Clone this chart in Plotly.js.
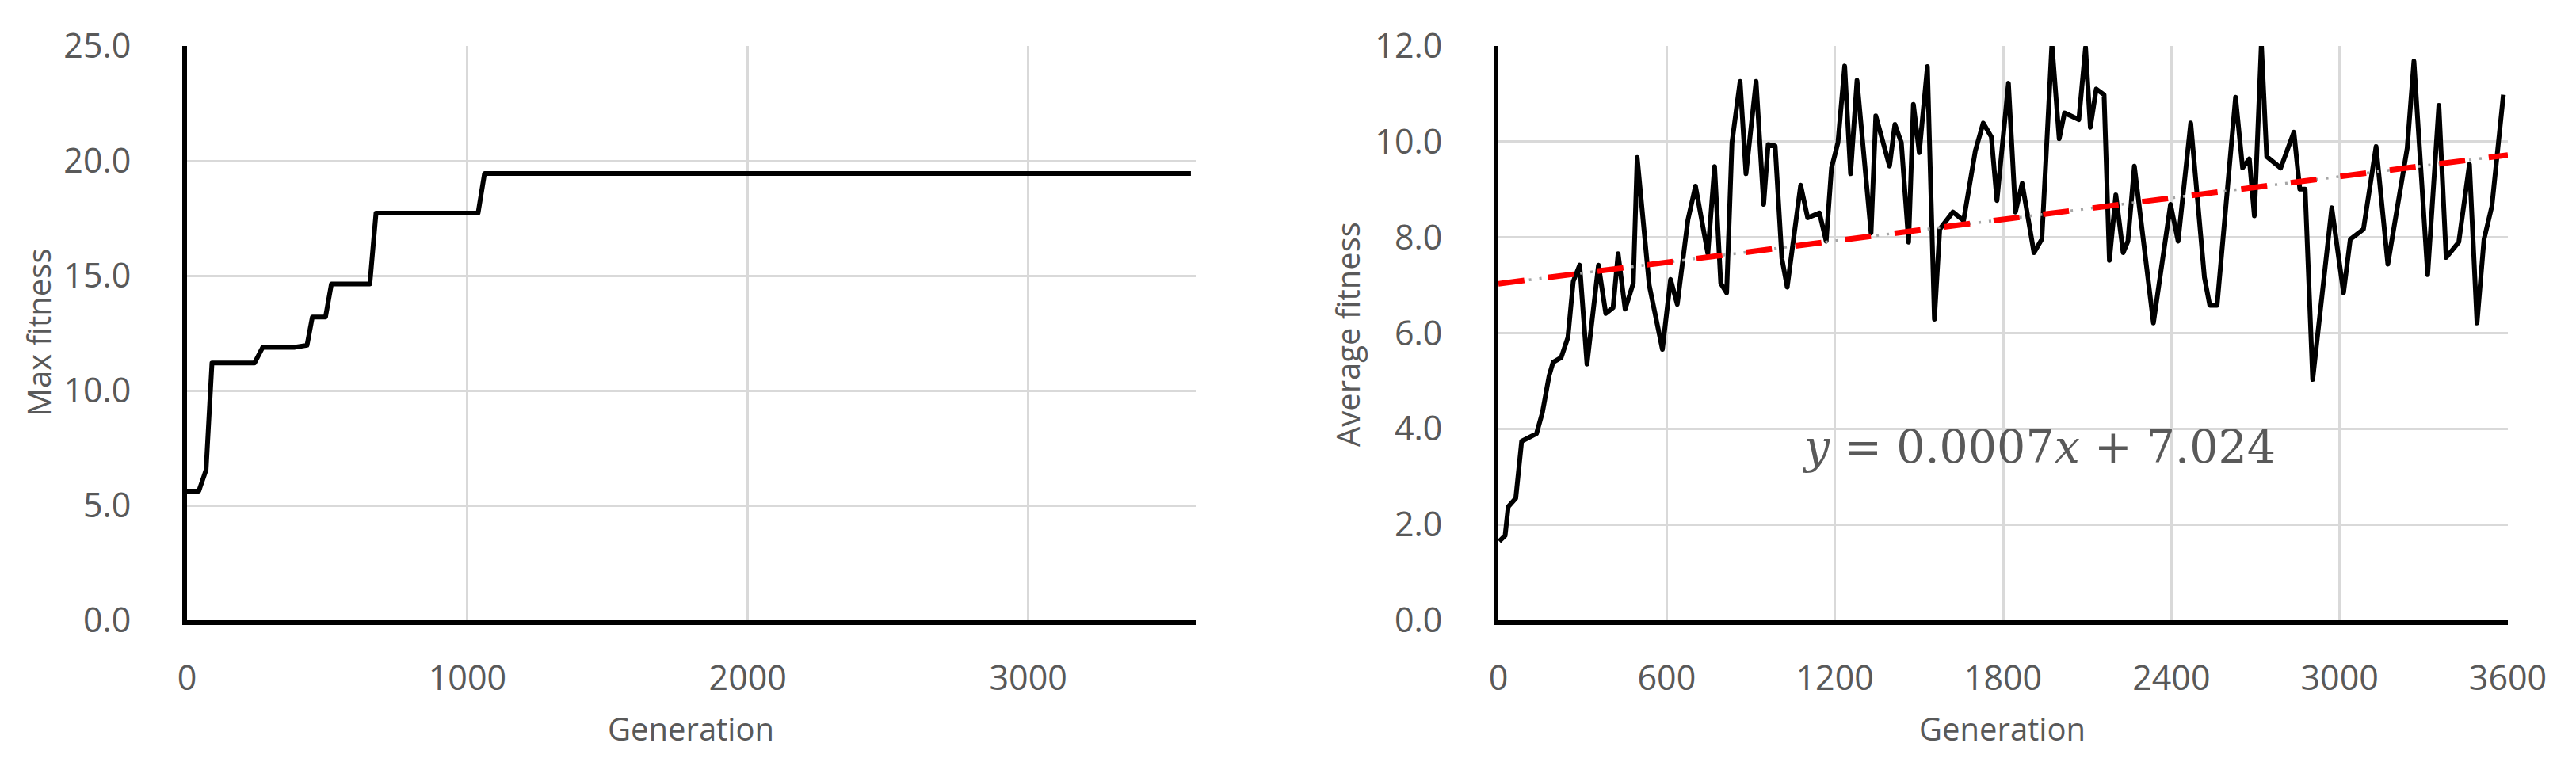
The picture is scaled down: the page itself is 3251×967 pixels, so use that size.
<!DOCTYPE html>
<html>
<head>
<meta charset="utf-8">
<script src="https://cdn.plot.ly/plotly-3.0.1.min.js"></script>
<style>
  html, body { margin: 0; padding: 0; background: #fff; }
  #chart { width: 3251px; height: 967px; }
  .js-line { stroke-linejoin: round; }
</style>
</head>
<body>
<div id="chart"></div>
<script>
// left panel: best fitness per generation (step-like curve)
const maxGen = [0, 42, 68, 89, 241, 270, 382, 428, 447, 494, 515, 652, 674, 1038, 1061, 3580];
const maxFit = [5.62, 5.62, 6.54, 11.2, 11.2, 11.88, 11.88, 11.97, 13.2, 13.2, 14.64, 14.64, 17.72, 17.72, 19.45, 19.45];

// right panel: average fitness per generation
const avgGen = [3, 24, 35, 62, 83, 136, 157, 181, 195, 224, 248, 267, 290, 316, 357, 383, 409, 427, 452, 481,
  495, 538, 585, 614, 638, 676, 703, 747, 771, 793, 814, 833, 862, 883, 919, 946, 962, 987, 1011, 1030,
  1078, 1103, 1145, 1169, 1188, 1211, 1235, 1256, 1279, 1329, 1346, 1395, 1414, 1437, 1463, 1480, 1501, 1530, 1555, 1574,
  1621, 1659, 1701, 1729, 1758, 1778, 1819, 1844, 1868, 1910, 1938, 1974, 2000, 2019, 2070, 2094, 2111, 2132, 2160, 2179,
  2202, 2228, 2245, 2268, 2336, 2397, 2424, 2469, 2518, 2537, 2563, 2629, 2654, 2678, 2696, 2721, 2740, 2790, 2837, 2858,
  2877, 2904, 2972, 3014, 3038, 3085, 3130, 3172, 3241, 3265, 3314, 3354, 3380, 3425, 3463, 3490, 3515, 3543, 3584];
const avgFit = [1.65, 1.77, 2.37, 2.55, 3.74, 3.90, 4.34, 5.11, 5.39, 5.49, 5.91, 7.08, 7.42, 5.35, 7.42, 6.41, 6.53, 7.66, 6.50, 7.04,
  9.67, 7.00, 5.66, 7.12, 6.60, 8.37, 9.07, 7.66, 9.48, 7.04, 6.84, 9.98, 11.26, 9.33, 11.26, 8.69, 9.94, 9.91, 7.56, 6.96,
  9.09, 8.41, 8.51, 7.92, 9.45, 9.98, 11.58, 9.33, 11.28, 8.09, 10.54, 9.49, 10.36, 9.98, 7.90, 10.78, 9.77, 11.57, 6.29, 8.17,
  8.53, 8.35, 9.81, 10.39, 10.10, 8.77, 11.22, 8.53, 9.13, 7.68, 7.96, 12.05, 10.06, 10.60, 10.46, 11.97, 10.30, 11.10, 10.98, 7.52,
  8.89, 7.68, 7.92, 9.49, 6.21, 8.69, 7.92, 10.39, 7.16, 6.58, 6.58, 10.93, 9.45, 9.64, 8.45, 12.05, 9.69, 9.45, 10.2, 9.01,
  9.01, 5.03, 8.62, 6.84, 7.96, 8.17, 9.90, 7.44, 9.86, 11.68, 7.22, 10.76, 7.58, 7.90, 9.53, 6.21, 7.96, 8.65, 10.98];

// linear trendline end points as drawn
const trendGen = [0, 3600];
const trendFit = [7.03, 9.72];
const trendLabel = '<i>y</i> = 0.0007<i>x</i> + 7.024';

const W = 3251, H = 967;
const grey = '#595959';
const gridColor = '#d9d9d9';
const tickFont = { family: 'Open Sans', size: 43, color: grey };
const titleFont = { family: 'Open Sans', size: 40, color: grey };

// pixel helpers for paper coordinates
const px = v => v / W;
const py = v => 1 - v / H;

function xAxis(domain, dtick, anchor) {
  return {
    domain: domain, range: [0, 3600], tick0: 0, dtick: dtick, anchor: anchor,
    showgrid: true, gridcolor: gridColor, gridwidth: 3, zeroline: false,
    showline: true, linecolor: '#000', linewidth: 6,
    ticks: '', ticklabelstandoff: 30, tickfont: tickFont, fixedrange: true
  };
}

function yAxis(range, dtick, anchor) {
  return {
    domain: [1 - 783 / H, 1 - 58 / H], range: range, tick0: 0, dtick: dtick, anchor: anchor,
    tickformat: '.1f', showgrid: true, gridcolor: gridColor, gridwidth: 3, zeroline: false,
    showline: true, linecolor: '#000', linewidth: 6,
    ticks: '', ticklabelstandoff: 56, tickfont: tickFont, fixedrange: true
  };
}

const traces = [
  {
    x: maxGen, y: maxFit, xaxis: 'x', yaxis: 'y', type: 'scatter', mode: 'lines',
    line: { color: '#000', width: 6 }, hoverinfo: 'skip'
  },
  {
    x: avgGen, y: avgFit, xaxis: 'x2', yaxis: 'y2', type: 'scatter', mode: 'lines',
    line: { color: '#000', width: 6 }, hoverinfo: 'skip'
  },
  {
    x: trendGen, y: trendFit, xaxis: 'x2', yaxis: 'y2', type: 'scatter', mode: 'lines',
    line: { color: '#a6a6a6', width: 3.5, dash: '3px,10px' }, hoverinfo: 'skip'
  },
  {
    x: trendGen, y: trendFit, xaxis: 'x2', yaxis: 'y2', type: 'scatter', mode: 'lines',
    line: { color: '#ff0000', width: 7, dash: '33px,30px' }, hoverinfo: 'skip'
  }
];

const layout = {
  width: W, height: H,
  margin: { l: 0, r: 0, t: 0, b: 0, pad: 0 },
  paper_bgcolor: '#fff', plot_bgcolor: '#fff',
  showlegend: false,
  font: { family: 'Open Sans', color: grey },
  xaxis: xAxis([236 / W, 1510 / W], 1000, 'y'),
  yaxis: yAxis([0, 25], 5, 'x'),
  xaxis2: xAxis([1891 / W, 3165 / W], 600, 'y2'),
  yaxis2: yAxis([0, 12], 2, 'x2'),
  annotations: [
    { text: 'Generation', xref: 'paper', yref: 'paper', x: px(872), y: py(919),
      xanchor: 'center', yanchor: 'middle', showarrow: false, font: titleFont },
    { text: 'Generation', xref: 'paper', yref: 'paper', x: px(2527), y: py(919),
      xanchor: 'center', yanchor: 'middle', showarrow: false, font: titleFont },
    { text: 'Max fitness', xref: 'paper', yref: 'paper', x: px(48), y: py(420), textangle: -90,
      xanchor: 'center', yanchor: 'middle', showarrow: false, font: titleFont },
    { text: 'Average fitness', xref: 'paper', yref: 'paper', x: px(1700), y: py(422), textangle: -90,
      xanchor: 'center', yanchor: 'middle', showarrow: false, font: titleFont },
    { text: trendLabel, xref: 'x2', yref: 'y2', x: 1927, y: 3.62,
      xanchor: 'center', yanchor: 'middle', showarrow: false,
      font: { family: 'DejaVu Serif', size: 57, color: grey } }
  ]
};

Plotly.newPlot('chart', traces, layout, { staticPlot: true, displayModeBar: false });
</script>
</body>
</html>
